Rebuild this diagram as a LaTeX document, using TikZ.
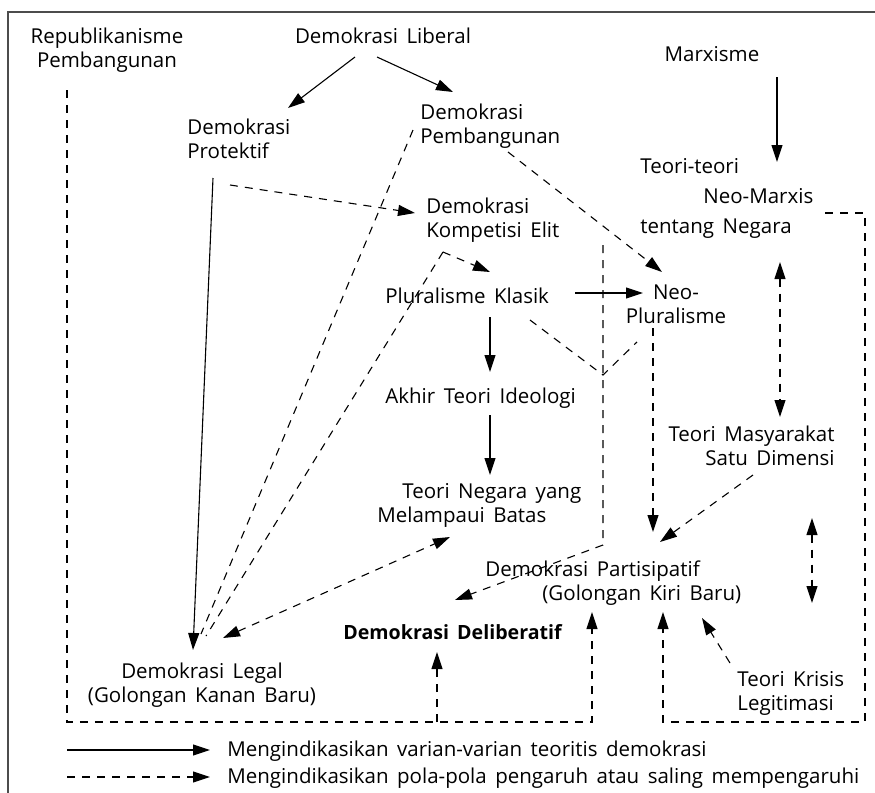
\documentclass[tikz,border=0pt]{standalone}
\usepackage{fontspec}
\setmainfont{Open Sans}[WordSpace=1.6]
\usetikzlibrary{arrows.meta,calc}

\begin{document}
\begin{tikzpicture}[x=0.5pt, y=-0.5pt,
    >={Triangle[length=8.5pt,width=5.5pt]},
    lbl/.style={inner sep=0pt, font=\fontsize{10.25}{12}\selectfont},
    var/.style={->, line width=0.55pt},
    infl/.style={->, line width=0.55pt, dash pattern=on 4pt off 3.5pt},
    link/.style={line width=0.55pt, dash pattern=on 4pt off 3.5pt}]
    \useasboundingbox (0,0) rectangle (875,793);
    \draw[gray!60!black, line width=1pt] (8,793) -- (8,12) -- (875,12);

    \node[lbl, align=center, anchor=base] (repub) at (107,67) {Republikanisme\\Pembangunan};
    \node[lbl, anchor=base] (liberal) at (383,43) {Demokrasi Liberal};
    \node[lbl, align=left, anchor=base west] (protektif) at (187,158) {Demokrasi\\Protektif};
    \node[lbl, align=left, anchor=base west] (pemb) at (420,143) {Demokrasi\\Pembangunan};
    \node[lbl, anchor=base] (marx) at (712,61) {Marxisme};
    \node[lbl, align=left, anchor=base west] (neomarx) at (640,233) {Teori-teori\\[3pt]\hspace*{31.5pt}Neo-Marxis\\[3pt]tentang Negara};
    \node[lbl, align=left, anchor=base west] (kompetisi) at (426,237) {Demokrasi\\Kompetisi Elit};
    \node[lbl, anchor=base west] (klasik) at (385,303) {Pluralisme Klasik};
    \node[lbl, align=center, anchor=base] (neoplur) at (676,323) {Neo-\\Pluralisme};
    \node[lbl, anchor=base west] (akhir) at (385,403) {Akhir Teori Ideologi};
    \node[lbl, align=left, anchor=base west] (negara) at (377,522) {\hspace*{12.5pt}Teori Negara yang\\Melampaui Batas};
    \node[lbl, align=right, anchor=base east] (masyarakat) at (835,465) {Teori Masyarakat\\Satu Dimensi};
    \node[lbl, align=left, anchor=base west] (partisipatif) at (485,600) {Demokrasi Partisipatif\\\hspace*{28.5pt}(Golongan Kiri Baru)};
    \node[lbl, anchor=base west, font=\fontsize{9.8}{12}\selectfont\bfseries] (deliberatif) at (343,639) {Demokrasi Deliberatif};
    \node[lbl, align=center, anchor=base] (legal) at (202,702) {Demokrasi Legal\\(Golongan Kanan Baru)};
    \node[lbl, align=left, anchor=base west] (krisis) at (737,710) {Teori Krisis\\Legitimasi};

    \draw[var] ($(liberal.base)+(-28,14)$) -- ($(protektif.base west)+(101,-50)$);
    \draw[var] ($(liberal.base)+(-6,14)$) -- ($(pemb.base west)+(33,-51)$);
    \draw[var] ($(protektif.base west)+(26,20)$) -- ($(legal.base)+(-9,-52)$);
    \draw[var] ($(marx.base)+(65,16)$) -- ($(neomarx.base west)+(137,-71)$);
    \draw[var] ($(klasik.base west)+(190,-10)$) -- ($(neoplur.base)+(-33,-30)$);
    \draw[var] ($(klasik.base west)+(105,14)$) -- ($(akhir.base west)+(105,-31)$);
    \draw[var] ($(akhir.base west)+(105,12)$) -- ($(negara.base west)+(113,-47)$);

    \coordinate (kbend) at ($(kompetisi.base west)+(17,15)$);
    \coordinate (vtop) at ($(kompetisi.base west)+(177,8)$);
    \coordinate (vjoin) at ($(klasik.base west)+(218,72)$);
    \coordinate (vbend) at ($(partisipatif.base west)+(118,-55)$);
    \coordinate (floor) at (0,722);
    \coordinate (rightx) at (865,0);
    \coordinate (repubfoot) at ($(repub.base)+(-40,23)$);
    \coordinate (kiriin) at ($(partisipatif.base west)+(107,12)$);
    \coordinate (kiriin2) at ($(partisipatif.base west)+(178,12)$);
    \coordinate (delibin) at ($(deliberatif.base west)+(94,13)$);
    \coordinate (marxfoot) at ($(neomarx.base west)+(185,-20)$);

    \draw[infl] ($(protektif.base west)+(43,27)$) -- ($(kompetisi.base west)+(-11,-24)$);
    \draw[link] ($(pemb.base west)+(-7,-13)$) -- ($(legal.base)+(-1,-68)$);
    \draw[infl] ($(pemb.base west)+(88,9)$) -- ($(neoplur.base)+(-14,-51)$);
    \draw[infl] (kbend) -- ($(klasik.base west)+(105,-31)$);
    \draw[link] (kbend) -- ($(legal.base)+(4,-66)$);
    \draw[infl, <->] ($(legal.base)+(21,-64)$) -- ($(negara.base west)+(73,15)$);
    \draw[infl] (vtop) -- (vbend) -- ($(deliberatif.base west)+(112,-39)$);
    \draw[link] ($(klasik.base west)+(145,17)$) -- (vjoin) -- ($(neoplur.base)+(-39,19)$);
    \draw[infl] ($(neoplur.base)+(-23,5)$) -- ($(partisipatif.base west)+(168,-68)$);
    \draw[infl] ($(masyarakat.base east)+(-82,10)$) -- ($(partisipatif.base west)+(175,-58)$);
    \draw[infl, <->] ($(neomarx.base west)+(140,29)$) -- ($(masyarakat.base east)+(-55,-48)$);
    \draw[infl, <->] ($(masyarakat.base east)+(-23,53)$) -- ($(krisis.base west)+(75,-107)$);
    \draw[infl] ($(krisis.base west)+(-7,-47)$) -- ($(partisipatif.base west)+(217,18)$);

    \draw[infl] (repubfoot) -- (repubfoot |- floor) -- (kiriin |- floor) -- (kiriin);
    \draw[infl] (delibin |- floor) -- (delibin);
    \draw[infl] (marxfoot) -- (rightx |- marxfoot) -- (rightx |- floor) -- (kiriin2 |- floor) -- (kiriin2);

    \foreach \n/\s/\y/\t in {1/var/750/{Mengindikasikan varian-varian teoritis demokrasi},
        2/infl/777/{Mengindikasikan pola-pola pengaruh atau saling mempengaruhi}} {
      \coordinate (l\n) at (67,\y);
      \node[lbl, anchor=base west] (leg\n) at (227,\y+6) {\t};
      \draw[\s] (l\n) -- ($(leg\n.base west)+(-17,-6)$);
    }
\end{tikzpicture}
\end{document}
